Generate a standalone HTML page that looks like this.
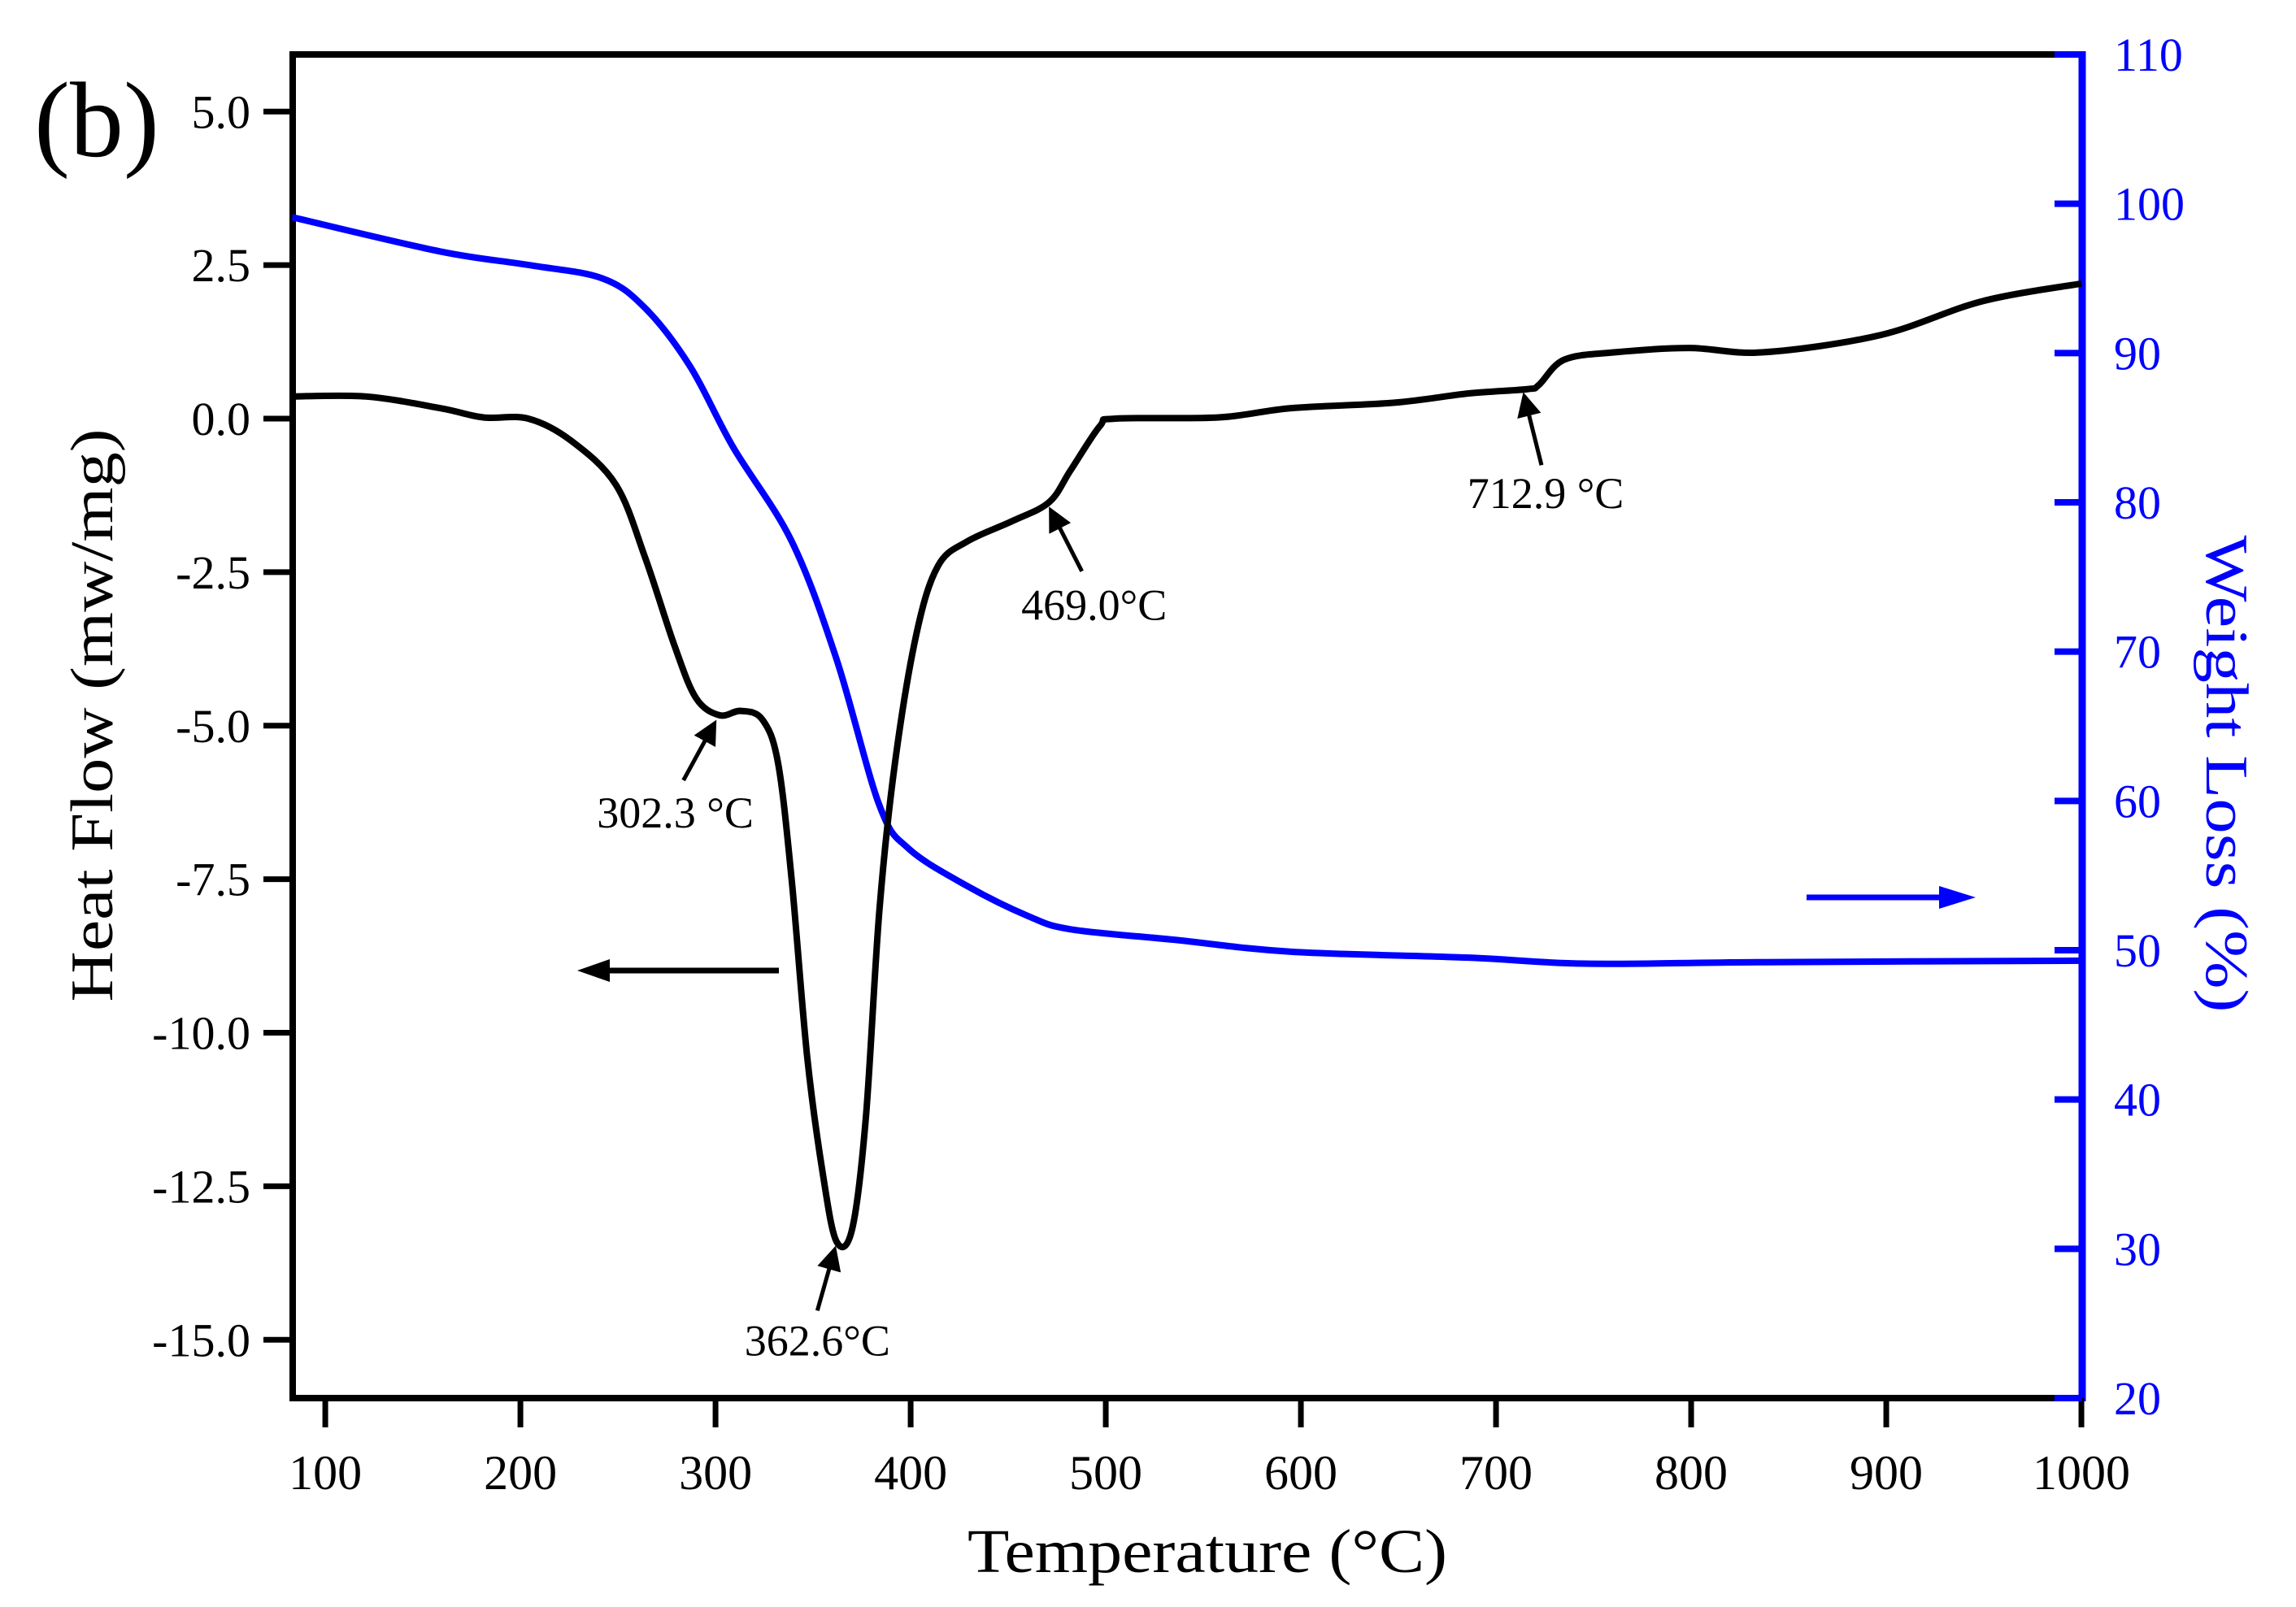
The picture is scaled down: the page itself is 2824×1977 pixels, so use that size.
<!DOCTYPE html>
<html><head><meta charset="utf-8"><style>
html,body{margin:0;padding:0;background:#fff;}
svg{display:block;font-family:"Liberation Serif",serif;}
</style></head><body>
<svg id="chart" width="2824" height="1977" viewBox="0 0 2824 1977" xmlns="http://www.w3.org/2000/svg">
<rect width="2824" height="1977" fill="#fff"/>
<g id="plot"></g>
</svg>
<script>
const xTicks=[100,200,300,400,500,600,700,800,900,1000];
const hfTicks=[5.0,2.5,0.0,-2.5,-5.0,-7.5,-10.0,-12.5,-15.0];
const hfTickLabels=["5.0","2.5","0.0","-2.5","-5.0","-7.5","-10.0","-12.5","-15.0"];
const wlTicks=[20,30,40,50,60,70,80,90,100,110];
const wlTemps=[83,159,204,242,264,287,309,339,362,384,399,429,460,482,535,595,686,746,837,1000];
const wlValues=[99.1,96.8,95.9,95.0,93.0,89.1,83.7,77.4,69.5,59.7,56.8,54.3,52.3,51.4,50.7,49.9,49.5,49.1,49.2,49.3];
const hfTemps=[83,121,159,181,204,226,249,264,279,290,302,313,324,332,339,347,355,362,370,377,384,392,403,414,429,452,471,482,497,505,558,595,648,686,716,722,735,761,799,837,897,949,1000];
const hfValues=[0.36,0.36,0.17,0.02,0,-0.36,-1.08,-2.27,-3.7,-4.55,-4.83,-4.76,-4.9,-5.6,-7.5,-10.4,-12.3,-13.4,-13.2,-11.4,-8.0,-5.6,-3.5,-2.4,-2.0,-1.67,-1.36,-0.84,-0.12,0,0.02,0.17,0.26,0.41,0.48,0.55,0.96,1.08,1.15,1.08,1.36,1.91,2.2];
const annTemps=[302.3,362.6,469.0,712.9];
const annValues=[-4.83,-13.4,-1.36,0.5];
const annLabels=["302.3 °C","362.6°C","469.0°C","712.9 °C"];

const L=360,R=2561,T=67,B=1720;
const X=t=>L+(t-83.3)/(1000.4-83.3)*(R-L);
const Yh=v=>515-v*75.55;
const Yw=v=>B-(v-20)/90*(B-T);
const NS="http://www.w3.org/2000/svg";
const g=document.getElementById('plot');
function mk(tag,attrs,parent){const e=document.createElementNS(NS,tag);for(const k in attrs)e.setAttribute(k,attrs[k]);(parent||g).appendChild(e);return e;}
function smooth(pts){let d='M'+pts[0][0]+','+pts[0][1];for(let i=0;i<pts.length-1;i++){const p0=pts[i-1]||pts[i],p1=pts[i],p2=pts[i+1],p3=pts[i+2]||p2;const c1x=p1[0]+(p2[0]-p0[0])/6,c1y=p1[1]+(p2[1]-p0[1])/6,c2x=p2[0]-(p3[0]-p1[0])/6,c2y=p2[1]-(p3[1]-p1[1])/6;d+=' C'+c1x+','+c1y+' '+c2x+','+c2y+' '+p2[0]+','+p2[1];}return d;}

let e;
e=mk('line',{x1:L,y1:T,x2:R,y2:T,stroke:'#000','stroke-width':8});


e=mk('line',{x1:L,y1:T-4,x2:L,y2:B+4,stroke:'#000','stroke-width':8});


e=mk('line',{x1:L-4,y1:B,x2:R,y2:B,stroke:'#000','stroke-width':8});


e=mk('line',{x1:R,y1:T-4,x2:R,y2:B+4,stroke:'#0000ff','stroke-width':9});



xTicks.forEach(t=>{
  const x=X(t);
  e=mk('line',{x1:x,y1:B,x2:x,y2:B+36,stroke:'#000','stroke-width':7});
  
  
  e=mk('text',{x:x,y:1832,'font-size':60,'text-anchor':'middle',fill:'#000'});
  e.textContent=t;
  
  
});
hfTicks.forEach((v,i)=>{
  const y=Yh(v);
  e=mk('line',{x1:L-36,y1:y,x2:L,y2:y,stroke:'#000','stroke-width':7});
  
  
  e=mk('text',{x:308,y:y+20,'font-size':58,'text-anchor':'end',fill:'#000'});
  e.textContent=hfTickLabels[i];
  
  
});
wlTicks.forEach(v=>{
  const y=Yw(v);
  e=mk('line',{x1:R-34,y1:y,x2:R,y2:y,stroke:'#0000ff','stroke-width':8});
  
  
  e=mk('text',{x:2600,y:y+20,'font-size':58,'text-anchor':'start',fill:'#0000ff'});
  e.textContent=v;
  
  
});

e=mk('text',{x:1485,y:1934,'font-size':76,'text-anchor':'middle',fill:'#000',textLength:590,lengthAdjust:'spacingAndGlyphs'});
e.textContent='Temperature (°C)';


e=mk('text',{x:0,y:0,'font-size':74,'text-anchor':'middle',fill:'#000',transform:'translate(138,880) rotate(-90)',textLength:705,lengthAdjust:'spacingAndGlyphs'});
e.textContent='Heat Flow (mw/mg)';


e=mk('text',{x:0,y:0,'font-size':74,'text-anchor':'middle',fill:'#0000ff',transform:'translate(2714,952) rotate(90)',textLength:587,lengthAdjust:'spacingAndGlyphs'});
e.textContent='Weight Loss (%)';


e=mk('text',{x:42,y:192,'font-size':132,fill:'#000'});
e.textContent='(b)';



e=mk('path',{d:smooth(wlTemps.map((t,i)=>[X(t),Yw(wlValues[i])])),fill:'none',stroke:'#0000ff','stroke-width':8,'stroke-linejoin':'round'});


e=mk('path',{d:smooth(hfTemps.map((t,i)=>[X(t),Yh(hfValues[i])])),fill:'none',stroke:'#000','stroke-width':8,'stroke-linejoin':'round'});



const defs=mk('defs',{});
const mkr=mk('marker',{id:'ah',markerWidth:6,markerHeight:6,refX:5,refY:3,orient:'auto',markerUnits:'strokeWidth'},defs);
mk('path',{d:'M0,0 L6,3 L0,6 Z',fill:'#000'},mkr);
const offs=[[-45,80,-55,118],[-25,85,-25,120],[45,85,60,125],[25,95,30,128]];
annTemps.forEach((t,i)=>{
  const x=X(t),y=Yh(annValues[i]);
  const o=offs[i];
  e=mk('line',{x1:x+o[0],y1:y+o[1],x2:x+o[0]*0.15,y2:y+10,stroke:'#000','stroke-width':5,'marker-end':'url(#ah)'});
  
  
  e=mk('text',{x:x+o[2],y:y+o[3]+20,'font-size':54,'text-anchor':'middle',fill:'#000'});
  e.textContent=annLabels[i];
  
  
});
e=mk('line',{x1:958,y1:1194,x2:740,y2:1194,stroke:'#000','stroke-width':7});


e=mk('path',{d:'M710,1194 L750,1180 L750,1208 Z',fill:'#000'});


e=mk('line',{x1:2222,y1:1104,x2:2400,y2:1104,stroke:'#0000ff','stroke-width':7});


e=mk('path',{d:'M2430,1104 L2385,1090 L2385,1118 Z',fill:'#0000ff'});


</script>
</body></html>
